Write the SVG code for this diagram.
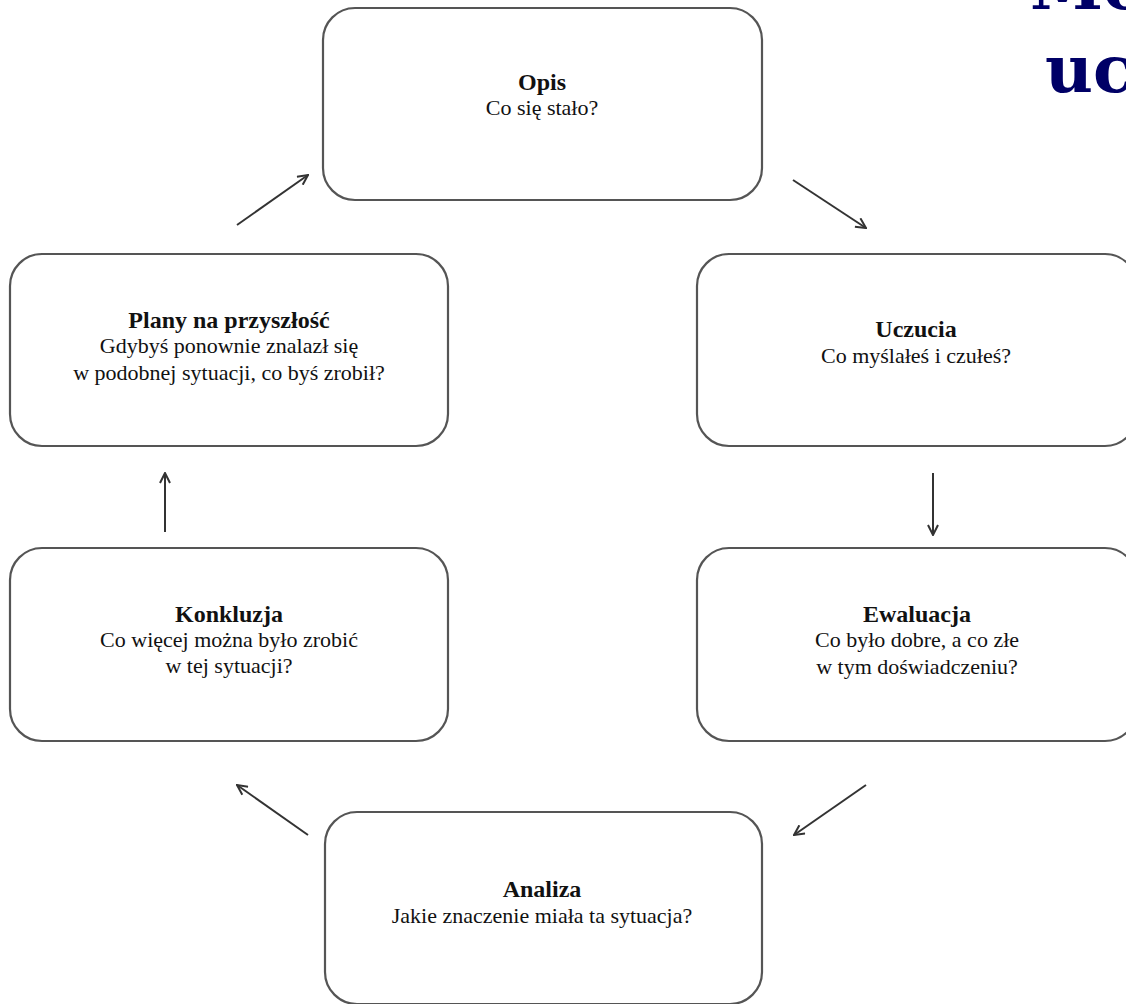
<svg xmlns="http://www.w3.org/2000/svg" width="1126" height="1004" viewBox="0 0 1126 1004">
<defs>
<style>
.box{fill:#fff;stroke:#555;stroke-width:2.2}
.t{font-family:"Liberation Serif","Times New Roman",serif;fill:#111;text-anchor:middle}
.h{font-weight:bold;font-size:24px}
.s{font-size:22px}
.c{stroke:#333;stroke-width:2;fill:none}
.hd{font-family:"DejaVu Serif",serif;font-weight:bold;font-size:66px;fill:#000066}
</style>
<marker id="ah" viewBox="0 0 12 12" refX="11" refY="6" markerWidth="12" markerHeight="12" markerUnits="userSpaceOnUse" orient="auto">
<path d="M1,1 L11,6 L1,11" fill="none" stroke="#333" stroke-width="2"/>
</marker>
</defs>
<rect width="1126" height="1004" fill="#fff"/>
<g id="heading">
<text class="hd" x="1030" y="9">Mo</text>
<text class="hd" x="1045" y="92">ucz</text>
</g>
<g id="opis">
<rect class="box" x="323" y="8" width="439" height="192" rx="32"/>
<text class="t h" x="542" y="90">Opis</text>
<text class="t s" x="542" y="115">Co się stało?</text>
</g>
<g id="uczucia">
<rect class="box" x="697" y="254" width="440" height="192" rx="32"/>
<text class="t h" x="916" y="337">Uczucia</text>
<text class="t s" x="916" y="363">Co myślałeś i czułeś?</text>
</g>
<g id="ewaluacja">
<rect class="box" x="697" y="548" width="440" height="193" rx="32"/>
<text class="t h" x="917" y="622">Ewaluacja</text>
<text class="t s" x="917" y="647">Co było dobre, a co złe</text>
<text class="t s" x="917" y="674">w tym doświadczeniu?</text>
</g>
<g id="analiza">
<rect class="box" x="325" y="812" width="437" height="192" rx="32"/>
<text class="t h" x="542" y="897">Analiza</text>
<text class="t s" x="542" y="923">Jakie znaczenie miała ta sytuacja?</text>
</g>
<g id="konkluzja">
<rect class="box" x="10" y="548" width="438" height="193" rx="32"/>
<text class="t h" x="229" y="622">Konkluzja</text>
<text class="t s" x="229" y="647">Co więcej można było zrobić</text>
<text class="t s" x="229" y="673">w tej sytuacji?</text>
</g>
<g id="plany">
<rect class="box" x="10" y="254" width="438" height="192" rx="32"/>
<text class="t h" x="229" y="328">Plany na przyszłość</text>
<text class="t s" x="229" y="353">Gdybyś ponownie znalazł się</text>
<text class="t s" x="229" y="380">w podobnej sytuacji, co byś zrobił?</text>
</g>
<g id="connectors">
<line class="c" x1="237" y1="225" x2="308" y2="175" marker-end="url(#ah)"/>
<line class="c" x1="793" y1="180" x2="866" y2="228" marker-end="url(#ah)"/>
<line class="c" x1="933" y1="473" x2="933" y2="535" marker-end="url(#ah)"/>
<line class="c" x1="866" y1="785" x2="794" y2="835" marker-end="url(#ah)"/>
<line class="c" x1="308" y1="835" x2="237" y2="785" marker-end="url(#ah)"/>
<line class="c" x1="165" y1="532" x2="165" y2="473" marker-end="url(#ah)"/>
</g>
</svg>
